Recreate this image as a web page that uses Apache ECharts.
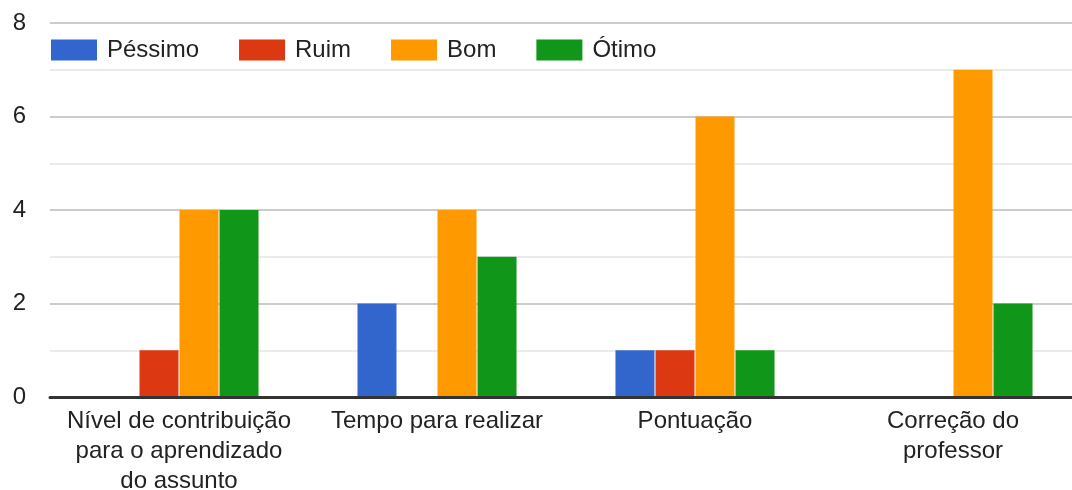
<!DOCTYPE html>
<html>
<head>
<meta charset="utf-8">
<script src="https://cdn.jsdelivr.net/npm/echarts@6/dist/echarts.min.js"></script>
<style>
html,body{margin:0;padding:0;background:#fff;}
#chart{width:1072px;height:490px;}
</style>
</head>
<body>
<div id="chart"></div>
<script>
const categories = [
  'Nível de contribuição\npara o aprendizado\ndo assunto',
  'Tempo para realizar',
  'Pontuação',
  'Correção do\nprofessor'
];
const seriesNames = ['Péssimo', 'Ruim', 'Bom', 'Ótimo'];
const pessimo = [0, 2, 1, 0];
const ruim = [1, 0, 1, 0];
const bom = [4, 4, 6, 7];
const otimo = [4, 3, 1, 2];
const colors = ['#3366cc', '#dc3912', '#ff9900', '#109618'];
const FONT = 'Arial, "Liberation Sans", sans-serif';

const chart = echarts.init(document.getElementById('chart'), null, {renderer: 'canvas'});
const values = [pessimo, ruim, bom, otimo];
chart.setOption({
  animation: false,
  color: colors,
  legend: {
    left: 51, top: 38, padding: 0,
    itemWidth: 46, itemHeight: 21, itemGap: 40,
    icon: 'rect',
    textStyle: {fontFamily: FONT, fontSize: 24, color: '#222', padding: [0, 0, 0, 5]},
    data: seriesNames
  },
  grid: {left: 50, right: -10, top: 23, bottom: 93, containLabel: false, outerBoundsMode: 'none'},
  xAxis: {
    type: 'category',
    data: categories,
    z: 5,
    axisLine: {show: true, lineStyle: {color: '#333', width: 3}},
    axisTick: {show: false},
    axisLabel: {fontFamily: FONT, fontSize: 24, color: '#222', lineHeight: 30, margin: 9, interval: 0}
  },
  yAxis: {
    type: 'value',
    min: 0, max: 8, interval: 2,
    axisLine: {show: false},
    axisTick: {show: false},
    axisLabel: {fontFamily: FONT, fontSize: 24, color: '#222', margin: 24},
    splitLine: {lineStyle: {color: '#cccccc', width: 2}},
    minorTick: {show: false, splitNumber: 2},
    minorSplitLine: {show: true, lineStyle: {color: '#ebebeb', width: 2}}
  },
  series: seriesNames.map((n, i) => ({
    name: n,
    type: 'bar',
    data: values[i],
    barWidth: 39,
    barGap: '2.6%',
    itemStyle: {color: colors[i]}
  }))
});
</script>
</body>
</html>
